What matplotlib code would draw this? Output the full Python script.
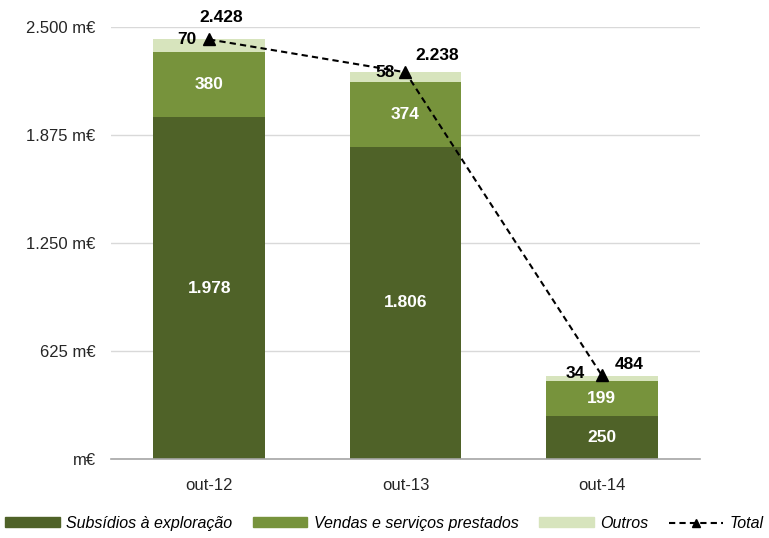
import matplotlib.pyplot as plt
from matplotlib.patches import Patch
from matplotlib.lines import Line2D

plt.rcParams['font.family'] = ['Liberation Sans', 'DejaVu Sans']

# data (m€)
meses = ['out-12', 'out-13', 'out-14']
subsidios = [1978, 1806, 250]
vendas = [380, 374, 199]
outros = [70, 58, 34]
total = [2428, 2238, 484]

subsidios_lbl = ['1.978', '1.806', '250']
total_lbl = ['2.428', '2.238', '484']

c_sub = '#4F6228'
c_ven = '#77933C'
c_out = '#D7E4BD'

# label offsets in points (total / outros)
off_total = [(-7, 16), (7, 12), (9, 8)]
off_outros = [(-9, 0), (-8, 0), (-12, 1)]

fig = plt.figure(figsize=(7.69, 5.38), dpi=100)
ax = fig.add_axes([0.1443, 0.1468, 0.766, 0.803])

x = range(len(meses))
w = 0.57
ax.bar(x, subsidios, w, color=c_sub, zorder=2)
base2 = subsidios
ax.bar(x, vendas, w, bottom=base2, color=c_ven, zorder=2)
base3 = [a + b for a, b in zip(subsidios, vendas)]
ax.bar(x, outros, w, bottom=base3, color=c_out, zorder=2)

ax.plot(x, total, color='black', linestyle=(0, (3, 2)), linewidth=1.5,
        marker='^', markersize=8, zorder=4)

# labels inside segments
for i in x:
    ax.text(i, subsidios[i] / 2, subsidios_lbl[i], ha='center', va='center',
            color='white', fontsize=12.5, fontweight='bold', zorder=5)
    ax.text(i, base2[i] + vendas[i] / 2, str(vendas[i]), ha='center', va='center',
            color='white', fontsize=12.5, fontweight='bold', zorder=5)
    ax.annotate(str(outros[i]), (i, total[i]), xytext=off_outros[i], textcoords='offset points',
                ha='right', va='center', fontsize=12.5, fontweight='bold', zorder=5)
    ax.annotate(total_lbl[i], (i, total[i]), xytext=off_total[i], textcoords='offset points',
                ha='left', va='center', fontsize=12.5, fontweight='bold', zorder=5)

ax.set_xlim(-0.5, 2.5)
ax.set_ylim(0, 2500)
ax.set_yticks([0, 625, 1250, 1875, 2500])
ax.set_yticklabels(['m€', '625 m€', '1.250 m€', '1.875 m€', '2.500 m€'])
ax.set_xticks(list(x))
ax.set_xticklabels(meses)
ax.tick_params(axis='both', length=0, labelsize=12, colors='#262626')
ax.tick_params(axis='y', pad=11)
ax.tick_params(axis='x', pad=14)

ax.yaxis.grid(True, color='#D9D9D9', linewidth=1, zorder=0)
ax.set_axisbelow(True)
for s in ['top', 'right', 'left']:
    ax.spines[s].set_visible(False)
ax.spines['bottom'].set_color('#A6A6A6')
ax.spines['bottom'].set_linewidth(1.2)

handles = [
    Patch(color=c_sub, label='Subsídios à exploração'),
    Patch(color=c_ven, label='Vendas e serviços prestados'),
    Patch(color=c_out, label='Outros'),
    Line2D([], [], color='black', linestyle=(0, (3, 2)), marker='^', markersize=6,
           linewidth=1.5, label='Total'),
]
fig.legend(handles=handles, loc='center', bbox_to_anchor=(0.5, 0.027), ncol=4,
           frameon=False, prop={'style': 'italic', 'size': 11.5},
           handlelength=3.4, handleheight=0.6, columnspacing=1.3, handletextpad=0.4)

fig.savefig('out.png', dpi=100)
